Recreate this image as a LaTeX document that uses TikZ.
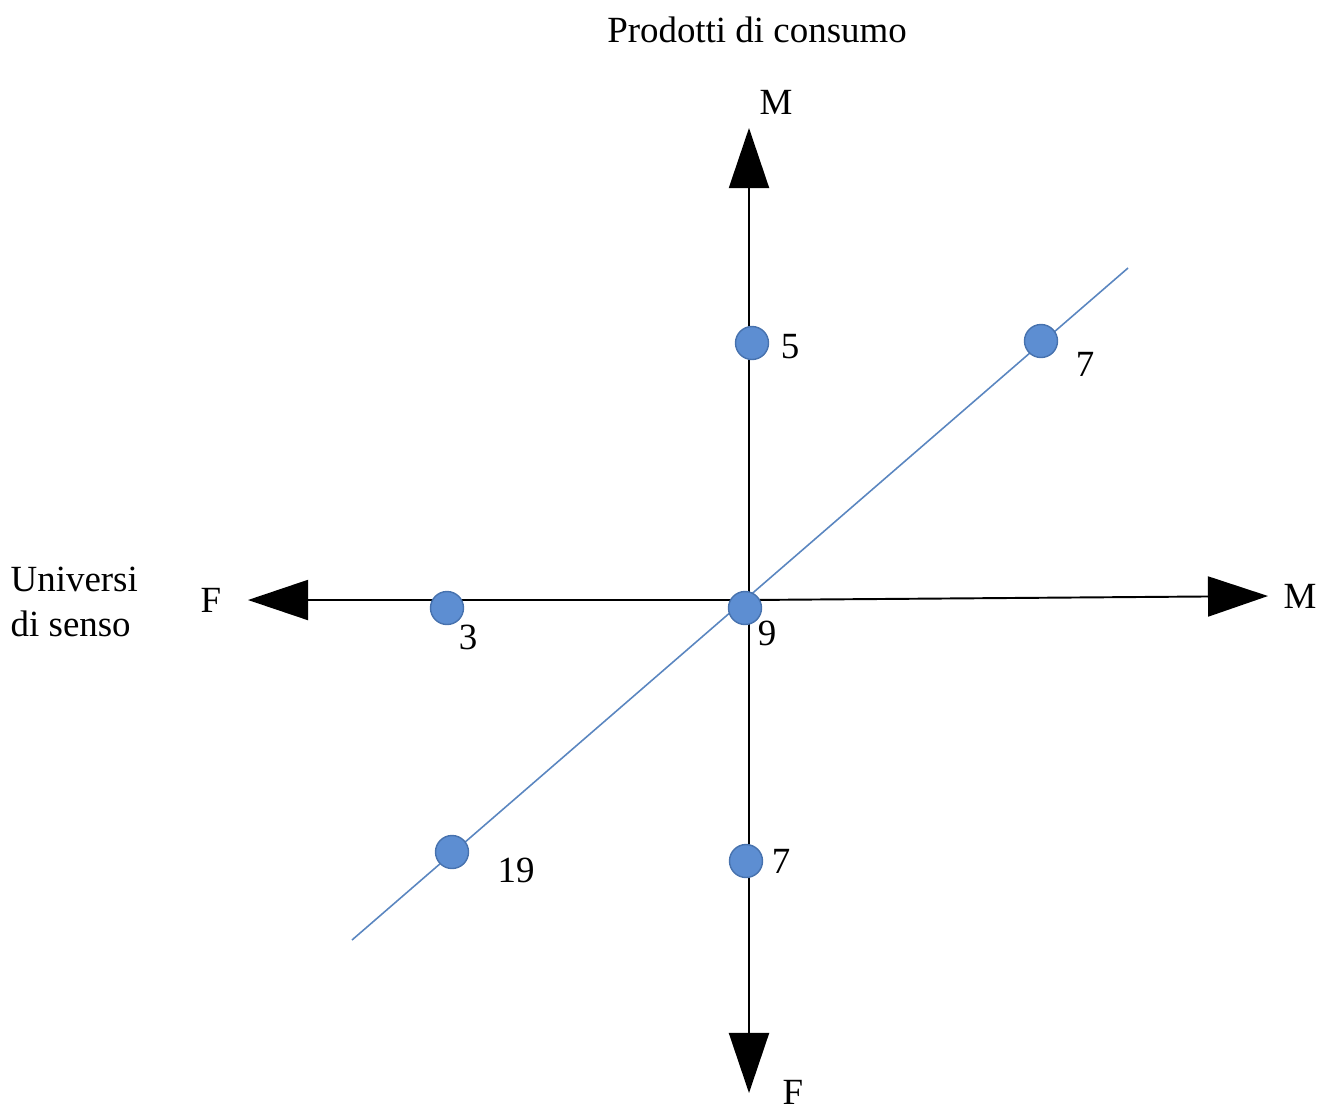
\documentclass[tikz,border=0pt]{standalone}
\usepackage{fontspec}
\setmainfont{Liberation Serif}
\usetikzlibrary{arrows.meta}
\definecolor{lineblu}{HTML}{5A86C0}
\definecolor{dotblu}{HTML}{5D8ED2}
\definecolor{dotrim}{HTML}{4772AE}

\begin{document}
\begin{tikzpicture}[x=0.01cm,y=-0.01cm,
    every node/.style={font=\fontsize{10.5}{13}\selectfont},
    axis/.style={line width=0.55pt,-{Triangle[length=6mm,width=4mm]}},
    diag/.style={lineblu,line width=0.45pt},
    dot/.style={circle,fill=dotblu,draw=dotrim,line width=0.4pt,minimum size=3.3mm,inner sep=0pt}]
    \useasboundingbox (0,0) rectangle (1321,1108);

    % axis ends and centre
    \coordinate (c) at (749,600);
    \coordinate (top) at (749,128);
    \coordinate (bot) at (749,1093);
    \coordinate (lft) at (248,600);
    \coordinate (rgt) at (1268,596);
    \coordinate (dlo) at (352,940);
    \coordinate (uhi) at (1128,268);

    % diagonal line first, dots on top
    \draw[diag] (dlo) -- (uhi);

    % the two axes
    \draw[axis] (c) -- (top);
    \draw[axis] (c) -- (bot);
    \draw[axis] (c) -- (lft);
    \draw[axis] (c) -- (rgt);

    % dots
    \node[dot] (v5) at (752,343) {};
    \node[dot] (d7) at (1041,341) {};
    \node[dot] (h3) at (447,608) {};
    \node[dot] (o9) at (745,608) {};
    \node[dot] (d19) at (452,852) {};
    \node[dot] (v7) at (746,861) {};

    % dot values
    \node (n5) at (790,347) {5};
    \node (n7a) at (1085,364) {7};
    \node (n3) at (468,637) {3};
    \node (n9) at (767,633) {9};
    \node (n19) at (516,870) {19};
    \node (n7b) at (781,861) {7};

    % axis ends
    \node (mtop) at (776,102) {M};
    \node (fbot) at (793,1092) {F};
    \node (flft) at (211,600) {F};
    \node (mrgt) at (1300,596) {M};

    % titles
    \node (prod) at (757,30) {Prodotti di consumo};
    \node[align=left,anchor=west,inner sep=0pt] (univ) at (10,602) {Universi\\di senso};
\end{tikzpicture}
\end{document}
